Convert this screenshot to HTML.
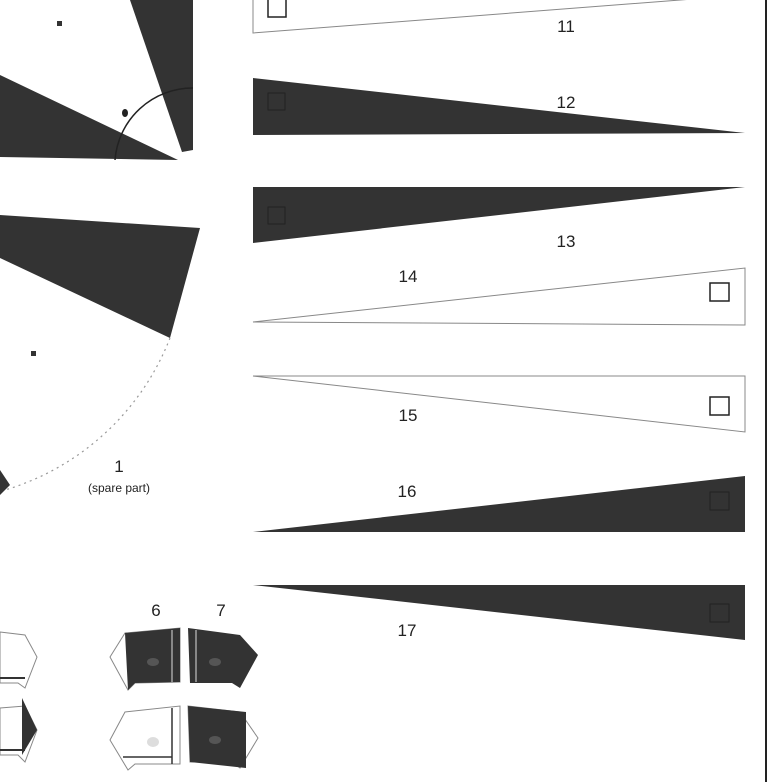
<!DOCTYPE html>
<html><head><style>body{margin:0;background:#fff}svg{display:block}text{font-family:"Liberation Sans",sans-serif;fill:#222}</style></head><body>
<svg width="782" height="782" viewBox="0 0 782 782" xmlns="http://www.w3.org/2000/svg">
<rect width="782" height="782" fill="#fff"/>
<line x1="766" y1="0" x2="766" y2="782" stroke="#222" stroke-width="2"/>
<!-- upper pie -->
<polygon points="130,0 193,0 193,150 182,152" fill="#333"/>
<polygon points="0,75 178,160 0,157" fill="#333"/>
<path d="M115,160 A78,78 0 0 1 193,88" fill="none" stroke="#222" stroke-width="1.5"/>
<circle cx="190" cy="160" r="9" fill="#fff"/>
<ellipse cx="125" cy="113" rx="3" ry="4" fill="#222"/>
<rect x="57" y="21" width="5" height="5" fill="#333"/>
<!-- lower pie -->
<polygon points="0,215 200,228 170,338 0,258" fill="#333"/>
<path d="M170,338 A255,255 0 0 1 5,490" fill="none" stroke="#999" stroke-width="1.2" stroke-dasharray="2,4"/>
<polygon points="0,470 10,485 0,495" fill="#333"/>
<rect x="31" y="351" width="5" height="5" fill="#333"/>
<text x="119" y="472" font-size="17" text-anchor="middle">1</text>
<text x="119" y="492" font-size="12" text-anchor="middle">(spare part)</text>
<!-- triangles -->
<polygon points="253,-5 745,-5 253,33" fill="#fff" stroke="#888" stroke-width="1"/>
<rect x="268" y="-1" width="18" height="18" fill="#fff" stroke="#222" stroke-width="1.5"/>
<text x="566" y="32" font-size="17" text-anchor="middle">11</text>
<polygon points="253,78 745,133 253,135" fill="#333"/>
<rect x="268" y="93" width="17" height="17" fill="none" stroke="#222"/>
<text x="566" y="108" font-size="17" text-anchor="middle">12</text>
<polygon points="253,187 745,187 253,243" fill="#333"/>
<rect x="268" y="207" width="17" height="17" fill="none" stroke="#222"/>
<text x="566" y="247" font-size="17" text-anchor="middle">13</text>
<polygon points="253,322 745,268 745,325" fill="#fff" stroke="#888"/>
<rect x="710" y="283" width="19" height="18" fill="#fff" stroke="#222" stroke-width="1.5"/>
<text x="408" y="282" font-size="17" text-anchor="middle">14</text>
<polygon points="253,376 745,376 745,432" fill="#fff" stroke="#888"/>
<rect x="710" y="397" width="19" height="18" fill="#fff" stroke="#222" stroke-width="1.5"/>
<text x="408" y="421" font-size="17" text-anchor="middle">15</text>
<polygon points="253,532 745,476 745,532" fill="#333"/>
<rect x="710" y="492" width="19" height="18" fill="none" stroke="#222"/>
<text x="407" y="497" font-size="17" text-anchor="middle">16</text>
<polygon points="253,585 745,585 745,640" fill="#333"/>
<rect x="710" y="604" width="19" height="18" fill="none" stroke="#222"/>
<text x="407" y="636" font-size="17" text-anchor="middle">17</text>
<!-- small pieces -->
<text x="156" y="616" font-size="17" text-anchor="middle">6</text>
<text x="221" y="616" font-size="17" text-anchor="middle">7</text>
<polygon points="0,632 25,635 37,657 25,688 18,683 0,683" fill="#fff" stroke="#888"/>
<line x1="0" y1="678" x2="25" y2="678" stroke="#333" stroke-width="2"/>
<polygon points="0,708 25,706 37,730 25,762 18,755 0,755" fill="#fff" stroke="#888"/>
<polygon points="22,698 37,730 22,755" fill="#333"/>
<line x1="0" y1="750" x2="25" y2="750" stroke="#333" stroke-width="2"/>
<!-- 6 -->
<polygon points="125,633 180,628 180,682 135,683 128,690 110,657" fill="#fff" stroke="#888"/>
<polygon points="125,633 180,628 180,682 135,683 128,690" fill="#333"/>
<line x1="172" y1="630" x2="172" y2="682" stroke="#ddd" stroke-width="1"/>
<ellipse cx="153" cy="662" rx="6" ry="4" fill="#555"/>
<!-- 7 -->
<polygon points="188,628 240,635 258,655 240,688 232,683 190,683" fill="#333"/>
<line x1="196" y1="630" x2="196" y2="682" stroke="#ddd"/>
<ellipse cx="215" cy="662" rx="6" ry="4" fill="#555"/>
<!-- 8 -->
<polygon points="125,712 180,706 180,764 135,764 128,770 110,740" fill="#fff" stroke="#888"/>
<line x1="172" y1="708" x2="172" y2="764" stroke="#333" stroke-width="1.5"/>
<line x1="123" y1="757" x2="172" y2="757" stroke="#333" stroke-width="1.5"/>
<ellipse cx="153" cy="742" rx="6" ry="5" fill="#ddd"/>
<!-- 9 -->
<polygon points="188,706 240,712 258,738 240,768 232,762 190,762" fill="#fff" stroke="#888"/>
<polygon points="188,706 246,712 246,768 190,762" fill="#333"/>
<ellipse cx="215" cy="740" rx="6" ry="4" fill="#555"/>
<text x="156" y="795" font-size="17" text-anchor="middle">8</text>
<text x="221" y="795" font-size="17" text-anchor="middle">9</text>
</svg>
</body></html>
